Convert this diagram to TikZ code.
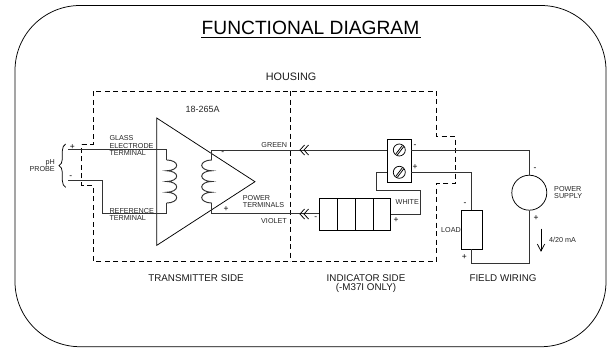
\documentclass[tikz,border=0pt]{standalone}
\usepackage{fontspec}
\setmainfont{Liberation Sans}
\usetikzlibrary{calc,decorations.pathreplacing}
\tikzset{
 wire/.style={line width=0.95pt,draw=black!80},
 thin line/.style={line width=0.75pt,draw=black},
 housing/.style={line width=0.8pt,dash pattern=on 5pt off 3.5pt},
 tiny/.style={font=\fontsize{7.2}{8}\selectfont,inner sep=0pt,text=black!85},
 mid/.style={font=\fontsize{9.8}{10}\selectfont,inner sep=0pt,text=black!90},
 sign/.style={font=\fontsize{8.5}{8}\selectfont,inner sep=0pt},
}
\begin{document}
\begin{tikzpicture}[x=1pt,y=-1pt]
\useasboundingbox (0,0) rectangle (610,348);
\draw[thin line,rounded corners=65pt] (15,5.5) rectangle (606,346.7);
% title
\node[inner sep=0pt,font=\fontsize{19.2}{20}\selectfont] (title) at (310.5,27.5) {FUNCTIONAL DIAGRAM};
\coordinate (ulL) at (201,37.5); \coordinate (ulR) at (420.5,37.5);
\draw[line width=1.4pt] (ulL) -- (ulR);
\node[mid,font=\fontsize{10.8}{11}\selectfont] (housinglabel) at (291,77) {HOUSING};
% housing
\coordinate (h1) at (93,144.3); \coordinate (h2) at (93,91); \coordinate (h3) at (436.7,91);
\coordinate (h4) at (436.7,136.7); \coordinate (h5) at (455.7,136.7); \coordinate (h6) at (455.7,183.3);
\coordinate (h7) at (436.7,183.3); \coordinate (h8) at (436.7,261); \coordinate (h9) at (93,261);
\coordinate (h10) at (93,185); \coordinate (h11) at (81.7,185); \coordinate (h12) at (81.7,144.3);
\draw[housing] (h12) -- (h1) -- (h2) -- (h3) -- (h4) -- (h5) -- (h6) -- (h7) -- (h8) -- (h9) -- (h10) -- (h11) -- (h12);
\coordinate (divT) at (290.7,91); \coordinate (divB) at (290.7,261);
\draw[housing] (divT) -- (divB);
% amplifier
\coordinate (triA) at (156.7,118); \coordinate (triB) at (255,181.7); \coordinate (triC) at (156.7,245.4);
\draw[thin line] (triA) -- (triB) -- (triC) -- cycle;
% input wires
\coordinate (pPlus) at (68,149.5); \coordinate (pMinus) at (68,180.7);
\coordinate (c1T) at (166.7,160); \coordinate (c1B) at (166.7,203);
\coordinate (c2T) at (211.7,160); \coordinate (c2B) at (211.7,203);
\draw[wire] (pPlus) -| (c1T);
\draw[wire] (pMinus) -| (102.3,213.3) -| (c1B);
\draw[wire] (c1T) arc[start angle=-90,end angle=90,x radius=10,y radius=5.375]
 arc[start angle=-90,end angle=90,x radius=10,y radius=5.375]
 arc[start angle=-90,end angle=90,x radius=10,y radius=5.375]
 arc[start angle=-90,end angle=90,x radius=10,y radius=5.375];
\draw[wire] (c2T) arc[start angle=-90,end angle=-270,x radius=10,y radius=5.375]
 arc[start angle=-90,end angle=-270,x radius=10,y radius=5.375]
 arc[start angle=-90,end angle=-270,x radius=10,y radius=5.375]
 arc[start angle=-90,end angle=-270,x radius=10,y radius=5.375];
% terminal block
\node[draw,thin line,minimum width=23.7pt,minimum height=43pt,inner sep=0pt] (tb) at (399.2,160.8) {};
\node[draw,thin line,circle,minimum size=12pt,inner sep=0pt] (s1) at (399.3,150) {};
\node[draw,thin line,circle,minimum size=12pt,inner sep=0pt] (s2) at (399.3,172.3) {};
\draw[thin line] ($(s1)+(-3.5,4)$) -- ($(s1)+(3,-4.5)$) ($(s1)+(-2,5)$) -- ($(s1)+(4.5,-3.5)$);
\draw[thin line] ($(s2)+(-3.5,4)$) -- ($(s2)+(3,-4.5)$) ($(s2)+(-2,5)$) -- ($(s2)+(4.5,-3.5)$);
% indicator
\node[draw,thin line,minimum width=71.4pt,minimum height=31.7pt,inner sep=0pt] (ind) at (355,214.2) {};
\coordinate (d1) at (337.3,198.3); \coordinate (d2) at (355.3,198.3); \coordinate (d3) at (373,198.3);
\draw[thin line] (d1) -- (337.3,230) (d2) -- (355.3,230) (d3) -- (373,230);
% load + supply
\node[draw,thin line,minimum width=21pt,minimum height=39pt,inner sep=0pt] (load) at (471.7,229.5) {};
\node[draw,thin line,circle,minimum size=35pt,inner sep=0pt] (psu) at (529.3,192.7) {};
% output wires
\coordinate (outG) at (211.7,150); \coordinate (outV) at (211.7,213.5);
\draw[wire] (c2T) -- (outG) -- (tb.west |- outG);
\draw[wire] (c2B) -- (outV) -- (ind.west |- outV);
\draw[wire] (s1 -| tb.east) -| (psu.north);
\draw[wire] (s2 -| tb.east) -| (load.north);
\draw[wire] (s2 -| tb.west) -| (376.7,190) -| (420.7,214.2) -- (ind.east);
\draw[wire] (psu.south) |- (471.7,263.3) -- (load.south);
% chevrons
\foreach \yy in {150,214}{
 \draw[thin line] (304.5,\yy-5) -- (300,\yy) -- (304.5,\yy+5);
 \draw[thin line] (308.5,\yy-5) -- (304,\yy) -- (308.5,\yy+5);
}
% current arrow
\coordinate (iT) at (541,228.5); \coordinate (iB) at (541,251);
\draw[thin line] (iT) -- (iB);
\draw[thin line] (537.3,244) -- (iB) -- (544.7,244);
% brace
\coordinate (brT) at (65.7,144); \coordinate (brB) at (65.7,187.3);
\draw[thin line,decorate,decoration={brace,amplitude=6.7pt,mirror}] (brT) -- (brB);
% texts
\node[tiny,anchor=east] (ph) at (55,162.3) {pH};
\node[tiny,anchor=east] (ph2) at (55,169.3) {PROBE};
\node[sign] (pl1) at (72.3,146.7) {+};
\node[sign] (mi1) at (70.7,177) {-};
\node[tiny,anchor=west] (t1) at (109.3,138.5) {GLASS};
\node[tiny,anchor=west] (t2) at (109.3,146) {ELECTRODE};
\node[tiny,anchor=west] (t3) at (109.3,153.3) {TERMINAL};
\node[tiny,anchor=west] (t4) at (109.3,210.7) {REFERENCE};
\node[tiny,anchor=west] (t5) at (109.3,218.3) {TERMINAL};
\node[tiny,font=\fontsize{9}{9}\selectfont] (t6) at (202.7,109) {18-265A};
\node[tiny,anchor=east] (t7) at (287.3,145.3) {GREEN};
\node[tiny,anchor=west] (t8) at (242.7,198.3) {POWER};
\node[tiny,anchor=west] (t9) at (242.7,205.3) {TERMINALS};
\node[tiny,anchor=east] (t10) at (287,220.7) {VIOLET};
\node[sign] (mi2) at (222.7,153) {-};
\node[sign] (pl2) at (226,209) {+};
\node[sign] (mi3) at (415,146) {-};
\node[sign] (pl3) at (415,167.3) {+};
\node[tiny] (t11) at (407.3,201.7) {WHITE};
\node[sign] (mi4) at (315.7,218) {-};
\node[sign] (pl4) at (396,220) {+};
\node[tiny,anchor=west] (t12) at (441,230) {LOAD};
\node[sign] (mi5) at (465,204) {-};
\node[sign] (pl5) at (464.3,257.3) {+};
\node[sign] (mi6) at (535,169) {-};
\node[sign] (pl6) at (536,218.3) {+};
\node[tiny,anchor=west] (t13) at (554,189) {POWER};
\node[tiny,anchor=west] (t14) at (554,196.3) {SUPPLY};
\node[tiny,anchor=west] (t15) at (549,240) {4/20 mA};
\node[mid] (t16) at (196,277.7) {TRANSMITTER SIDE};
\node[mid] (t17) at (366,277.7) {INDICATOR SIDE};
\node[mid] (t18) at (366,287.5) {(-M37I ONLY)};
\node[mid] (t19) at (503,277.7) {FIELD WIRING};
\end{tikzpicture}
\end{document}
